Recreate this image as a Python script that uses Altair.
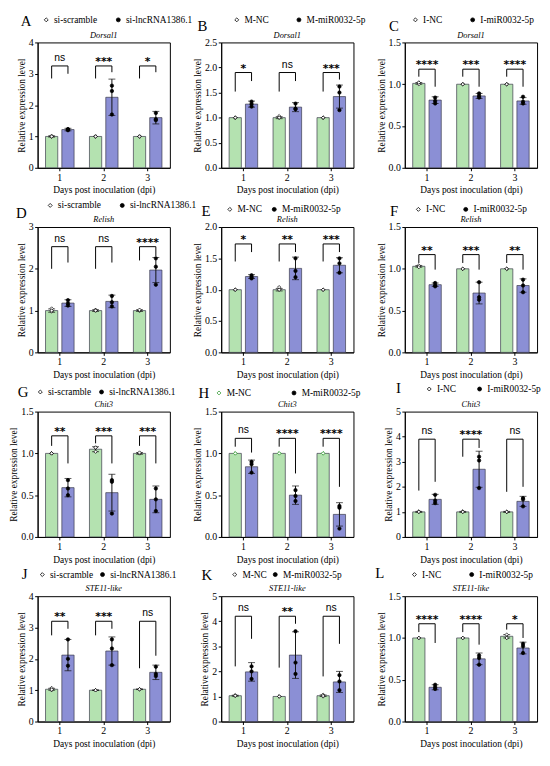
import altair as alt
import pandas as pd

SERIF = "Liberation Serif"
SANS = "Liberation Sans"
GREEN = "#b4e2b0"
BLUE = "#8b8fd5"
XT = "Days post inoculation (dpi)"
YT = "Relative expression level"
W, H = 134, 127

days = ["1", "2", "3"]
lnc_names = ["si-scramble", "si-lncRNA1386.1"]
m_names = ["M-NC", "M-miR0032-5p"]
i_names = ["I-NC", "I-miR0032-5p"]

# ---------------- A  Dorsal1 / lncRNA
A_ticks = [0, 1, 2, 3, 4]
A_ctrl_mean = [1.00, 1.00, 1.00]
A_ctrl_sd = [0.02, 0.00, 0.00]
A_trt_mean = [1.22, 2.25, 1.60]
A_trt_sd = [0.04, 0.58, 0.20]
A_ctrl_dots = [[0.99, 1.02, 1.00], [1.00, 1.00, 1.00], [1.00, 1.00, 1.00]]
A_trt_dots = [[1.20, 1.23, 1.23], [2.62, 2.45, 1.70], [1.75, 1.55, 1.52]]
A_sig = ["ns", "***", "*"]
A_top = [3.25, 3.25, 3.25]
A_lend = [2.85, 2.85, 2.85]
A_rend = [3.00, 3.05, 3.05]

# ---------------- B  Dorsal1 / M
B_ticks = [0, 0.5, 1.0, 1.5, 2.0, 2.5]
B_ctrl_mean = [1.00, 1.00, 1.00]
B_ctrl_sd = [0.00, 0.02, 0.00]
B_trt_mean = [1.27, 1.21, 1.42]
B_trt_sd = [0.06, 0.09, 0.23]
B_ctrl_dots = [[1.00, 1.00, 1.00], [1.00, 1.03, 1.00], [1.00, 1.00, 1.00]]
B_trt_dots = [[1.32, 1.27, 1.22], [1.28, 1.18, 1.17], [1.62, 1.50, 1.15]]
B_sig = ["*", "ns", "***"]
B_top = [1.90, 1.90, 1.90]
B_lend = [1.52, 1.52, 1.52]
B_rend = [1.73, 1.73, 1.76]

# ---------------- C  Dorsal1 / I
C_ticks = [0, 0.5, 1.0, 1.5]
C_ctrl_mean = [1.01, 1.00, 1.00]
C_ctrl_sd = [0.01, 0.00, 0.00]
C_trt_mean = [0.81, 0.86, 0.80]
C_trt_sd = [0.04, 0.03, 0.04]
C_ctrl_dots = [[1.02, 1.00, 1.02], [1.00, 1.00, 1.00], [1.00, 1.00, 1.00]]
C_trt_dots = [[0.84, 0.80, 0.77], [0.89, 0.86, 0.84], [0.85, 0.79, 0.77]]
C_sig = ["****", "***", "****"]
C_top = [1.18, 1.18, 1.18]
C_lend = [1.09, 1.09, 1.09]
C_rend = [0.97, 0.97, 0.97]

# ---------------- D  Relish / lncRNA
D_ticks = [0, 1, 2, 3]
D_ctrl_mean = [1.00, 1.00, 1.00]
D_ctrl_sd = [0.04, 0.02, 0.02]
D_trt_mean = [1.18, 1.22, 1.97]
D_trt_sd = [0.08, 0.15, 0.30]
D_ctrl_dots = [[1.05, 0.98, 1.00], [1.02, 1.00, 1.00], [1.00, 1.00, 1.02]]
D_trt_dots = [[1.25, 1.17, 1.12], [1.35, 1.20, 1.10], [2.25, 2.05, 1.62]]
D_sig = ["ns", "ns", "****"]
D_top = [2.53, 2.53, 2.53]
D_lend = [2.00, 2.00, 2.20]
D_rend = [2.15, 2.15, 2.30]

# ---------------- E  Relish / M
E_ticks = [0, 0.5, 1.0, 1.5, 2.0]
E_ctrl_mean = [1.00, 1.00, 1.00]
E_ctrl_sd = [0.00, 0.02, 0.00]
E_trt_mean = [1.21, 1.34, 1.39]
E_trt_sd = [0.03, 0.18, 0.12]
E_ctrl_dots = [[1.00, 1.00, 1.00], [1.00, 1.04, 1.00], [1.00, 1.00, 1.00]]
E_trt_dots = [[1.23, 1.20, 1.18], [1.50, 1.30, 1.20], [1.50, 1.42, 1.27]]
E_sig = ["*", "**", "***"]
E_top = [1.73, 1.73, 1.73]
E_lend = [1.45, 1.45, 1.45]
E_rend = [1.60, 1.60, 1.60]

# ---------------- F  Relish / I
F_ticks = [0, 0.5, 1.0, 1.5]
F_ctrl_mean = [1.03, 1.00, 1.00]
F_ctrl_sd = [0.01, 0.00, 0.00]
F_trt_mean = [0.81, 0.71, 0.80]
F_trt_sd = [0.02, 0.13, 0.08]
F_ctrl_dots = [[1.03, 1.04, 1.02], [1.00, 1.00, 1.00], [1.00, 1.00, 1.00]]
F_trt_dots = [[0.83, 0.80, 0.79], [0.84, 0.66, 0.63], [0.87, 0.80, 0.72]]
F_sig = ["**", "***", "**"]
F_top = [1.17, 1.17, 1.17]
F_lend = [1.07, 1.07, 1.07]
F_rend = [0.99, 0.99, 0.99]

# ---------------- G  Chit3 / lncRNA
G_ticks = [0, 0.5, 1.0, 1.5]
G_ctrl_mean = [1.00, 1.05, 1.00]
G_ctrl_sd = [0.00, 0.03, 0.01]
G_trt_mean = [0.59, 0.53, 0.45]
G_trt_sd = [0.11, 0.22, 0.16]
G_ctrl_dots = [[1.00, 1.00, 1.00], [1.07, 1.02, 1.07], [1.00, 1.00, 1.01]]
G_trt_dots = [[0.68, 0.58, 0.50], [0.68, 0.66, 0.28], [0.58, 0.45, 0.31]]
G_sig = ["**", "***", "***"]
G_top = [1.21, 1.21, 1.21]
G_lend = [1.09, 1.12, 1.09]
G_rend = [0.88, 0.88, 0.88]

# ---------------- H  Chit3 / M
H_ticks = [0, 0.5, 1.0, 1.5]
H_ctrl_mean = [1.00, 1.00, 1.00]
H_ctrl_sd = [0.00, 0.00, 0.00]
H_trt_mean = [0.84, 0.50, 0.27]
H_trt_sd = [0.08, 0.11, 0.14]
H_ctrl_dots = [[1.00, 1.00, 1.00], [1.00, 1.00, 1.00], [1.00, 1.00, 1.00]]
H_trt_dots = [[0.90, 0.87, 0.77], [0.56, 0.49, 0.43], [0.37, 0.35, 0.10]]
H_sig = ["ns", "****", "****"]
H_top = [1.18, 1.18, 1.18]
H_lend = [1.08, 1.08, 1.08]
H_rend = [1.01, 0.76, 0.60]

# ---------------- I  Chit3 / I
I_ticks = [0, 1, 2, 3, 4, 5]
I_ctrl_mean = [1.00, 1.00, 1.00]
I_ctrl_sd = [0.02, 0.02, 0.02]
I_trt_mean = [1.50, 2.70, 1.42]
I_trt_sd = [0.20, 0.72, 0.20]
I_ctrl_dots = [[1.00, 1.02, 1.00], [1.02, 1.00, 1.00], [1.00, 1.00, 1.00]]
I_trt_dots = [[1.68, 1.45, 1.35], [3.20, 3.05, 1.95], [1.55, 1.50, 1.22]]
I_sig = ["ns", "****", "ns"]
I_top = [3.90, 3.90, 3.90]
I_lend = [1.85, 3.20, 1.80]
I_rend = [2.20, 3.55, 2.00]

# ---------------- J  STE11-like / lncRNA
J_ticks = [0, 1, 2, 3, 4]
J_ctrl_mean = [1.03, 1.00, 1.03]
J_ctrl_sd = [0.03, 0.01, 0.01]
J_trt_mean = [2.12, 2.25, 1.57]
J_trt_sd = [0.50, 0.45, 0.23]
J_ctrl_dots = [[1.07, 1.00, 1.02], [1.00, 1.00, 1.00], [1.03, 1.03, 1.03]]
J_trt_dots = [[2.62, 2.00, 1.78], [2.62, 2.33, 1.80], [1.75, 1.52, 1.45]]
J_sig = ["**", "***", "ns"]
J_top = [3.20, 3.20, 3.20]
J_lend = [2.75, 2.75, 1.70]
J_rend = [2.96, 2.96, 2.10]

# ---------------- K  STE11-like / M
K_ticks = [0, 1, 2, 3, 4, 5]
K_ctrl_mean = [1.03, 1.00, 1.03]
K_ctrl_sd = [0.02, 0.00, 0.03]
K_trt_mean = [1.98, 2.65, 1.58]
K_trt_sd = [0.37, 0.93, 0.42]
K_ctrl_dots = [[1.05, 1.02, 1.03], [1.00, 1.00, 1.00], [1.07, 1.00, 1.02]]
K_trt_dots = [[2.20, 2.00, 1.70], [3.60, 2.35, 1.90], [1.85, 1.60, 1.25]]
K_sig = ["ns", "**", "ns"]
K_top = [4.20, 4.20, 4.20]
K_lend = [2.20, 2.15, 1.80]
K_rend = [3.30, 3.90, 3.10]

# ---------------- L  STE11-like / I
L_ticks = [0, 0.5, 1.0, 1.5]
L_ctrl_mean = [1.00, 1.00, 1.02]
L_ctrl_sd = [0.00, 0.00, 0.02]
L_trt_mean = [0.41, 0.75, 0.88]
L_trt_sd = [0.03, 0.07, 0.07]
L_ctrl_dots = [[1.00, 1.00, 1.00], [1.00, 1.00, 1.00], [1.04, 1.00, 1.00]]
L_trt_dots = [[0.44, 0.41, 0.39], [0.79, 0.76, 0.68], [0.93, 0.90, 0.82]]
L_sig = ["****", "****", "*"]
L_top = [1.17, 1.17, 1.17]
L_lend = [1.07, 1.07, 1.10]
L_rend = [0.94, 0.92, 1.00]

# panel layout / style (letter pos, legend pos, legend gap, control marker stroke)
STYLE = {
    "A": dict(lx=-17, ly=-17, gx=4, gy=-28, pad=16, cs="black"),
    "B": dict(lx=-24, ly=-12, gx=11, gy=-28, pad=25, cs="black"),
    "C": dict(lx=-16, ly=-12, gx=6, gy=-28, pad=25, cs="black"),
    "D": dict(lx=-22, ly=-9, gx=8, gy=-27, pad=16, cs="black"),
    "E": dict(lx=-20, ly=-11, gx=4, gy=-23, pad=7, cs="black"),
    "F": dict(lx=-15, ly=-11, gx=9, gy=-23, pad=15, cs="black"),
    "G": dict(lx=-20, ly=-15, gx=-2, gy=-25, pad=5, cs="black"),
    "H": dict(lx=-23, ly=-14, gx=-7, gy=-24, pad=38, cs="#3a9e3a"),
    "I": dict(lx=-9, ly=-19, gx=20, gy=-28, pad=18, cs="black"),
    "J": dict(lx=-16, ly=-17, gx=0, gy=-27, pad=4, cs="black"),
    "K": dict(lx=-20, ly=-16, gx=9, gy=-27, pad=3, cs="black"),
    "L": dict(lx=-30, ly=-18, gx=5, gy=-27, pad=25, cs="black"),
}

PANELS = [
    ("A", "Dorsal1", lnc_names, A_ticks, A_ctrl_mean, A_ctrl_sd, A_trt_mean, A_trt_sd, A_ctrl_dots, A_trt_dots, A_sig, A_top, A_lend, A_rend),
    ("B", "Dorsal1", m_names, B_ticks, B_ctrl_mean, B_ctrl_sd, B_trt_mean, B_trt_sd, B_ctrl_dots, B_trt_dots, B_sig, B_top, B_lend, B_rend),
    ("C", "Dorsal1", i_names, C_ticks, C_ctrl_mean, C_ctrl_sd, C_trt_mean, C_trt_sd, C_ctrl_dots, C_trt_dots, C_sig, C_top, C_lend, C_rend),
    ("D", "Relish", lnc_names, D_ticks, D_ctrl_mean, D_ctrl_sd, D_trt_mean, D_trt_sd, D_ctrl_dots, D_trt_dots, D_sig, D_top, D_lend, D_rend),
    ("E", "Relish", m_names, E_ticks, E_ctrl_mean, E_ctrl_sd, E_trt_mean, E_trt_sd, E_ctrl_dots, E_trt_dots, E_sig, E_top, E_lend, E_rend),
    ("F", "Relish", i_names, F_ticks, F_ctrl_mean, F_ctrl_sd, F_trt_mean, F_trt_sd, F_ctrl_dots, F_trt_dots, F_sig, F_top, F_lend, F_rend),
    ("G", "Chit3", lnc_names, G_ticks, G_ctrl_mean, G_ctrl_sd, G_trt_mean, G_trt_sd, G_ctrl_dots, G_trt_dots, G_sig, G_top, G_lend, G_rend),
    ("H", "Chit3", m_names, H_ticks, H_ctrl_mean, H_ctrl_sd, H_trt_mean, H_trt_sd, H_ctrl_dots, H_trt_dots, H_sig, H_top, H_lend, H_rend),
    ("I", "Chit3", i_names, I_ticks, I_ctrl_mean, I_ctrl_sd, I_trt_mean, I_trt_sd, I_ctrl_dots, I_trt_dots, I_sig, I_top, I_lend, I_rend),
    ("J", "STE11-like", lnc_names, J_ticks, J_ctrl_mean, J_ctrl_sd, J_trt_mean, J_trt_sd, J_ctrl_dots, J_trt_dots, J_sig, J_top, J_lend, J_rend),
    ("K", "STE11-like", m_names, K_ticks, K_ctrl_mean, K_ctrl_sd, K_trt_mean, K_trt_sd, K_ctrl_dots, K_trt_dots, K_sig, K_top, K_lend, K_rend),
    ("L", "STE11-like", i_names, L_ticks, L_ctrl_mean, L_ctrl_sd, L_trt_mean, L_trt_sd, L_ctrl_dots, L_trt_dots, L_sig, L_top, L_lend, L_rend),
]

PI_OFF = 0.25
STEP_OFF = 1.0 / (2 - PI_OFF)
POS_C = (1 - PI_OFF) * STEP_OFF / 2
POS_T = POS_C + STEP_OFF


def make_panel(letter, gene, names, ticks, cm, csd, tm, tsd, cd, td, sig, top, lend, rend):
    st = STYLE[letter]
    rows = []
    for i, d in enumerate(days):
        rows.append(dict(day=d, g="c", mean=cm[i], lo=cm[i] - csd[i], hi=cm[i] + csd[i]))
        rows.append(dict(day=d, g="t", mean=tm[i], lo=tm[i] - tsd[i], hi=tm[i] + tsd[i]))
    bars = pd.DataFrame(rows)
    drows = []
    for i, d in enumerate(days):
        for g, nm, arr in (("c", names[0], cd), ("t", names[1], td)):
            for r, v in enumerate(arr[i]):
                drows.append(dict(day=d, g=g, name=nm, rep=r, val=v))
    dots = pd.DataFrame(drows)
    br = pd.DataFrame(dict(day=days, top=top, lend=lend, rend=rend, sig=sig))

    fmt = "d" if all(float(t).is_integer() for t in ticks) else ".1f"
    xs = alt.Scale(paddingInner=0.35, paddingOuter=0.18)
    ys = alt.Scale(domain=[0, ticks[-1]], nice=False, zero=True)
    xax = alt.Axis(labelAngle=0)
    yax = alt.Axis(values=ticks, format=fmt)

    def X(**kw):
        return alt.X("day:N", title=XT, scale=xs, axis=xax, **kw)

    def Y(f):
        return alt.Y(f + ":Q", title=YT, scale=ys, axis=yax)

    xoff = alt.XOffset("g:N", scale=alt.Scale(domain=["c", "t"], paddingInner=PI_OFF, paddingOuter=0))
    color = alt.Color("g:N", scale=alt.Scale(domain=["c", "t"], range=[GREEN, BLUE]), legend=None)

    base = alt.Chart(bars)
    bar = base.mark_bar(stroke="#3a3a4a", strokeWidth=0.7).encode(
        x=X(), xOffset=xoff, y=Y("mean"), color=color)
    errs = base.transform_filter("datum.hi - datum.lo > 0.015")
    err = errs.mark_rule(color="#111", strokeWidth=1).encode(
        x=X(), xOffset=xoff, y=Y("lo"), y2="hi:Q")
    cap_hi = errs.mark_tick(color="#111", size=7, thickness=1).encode(x=X(), xOffset=xoff, y=Y("hi"))
    cap_lo = errs.mark_tick(color="#111", size=7, thickness=1).encode(x=X(), xOffset=xoff, y=Y("lo"))

    leg = alt.Legend(title=None, orient="none", legendX=st["gx"], legendY=st["gy"],
                     direction="horizontal", labelFont=SERIF, labelFontSize=9.5,
                     labelColor="black", symbolSize=16, symbolStrokeWidth=0.8,
                     columnPadding=st["pad"], labelOffset=3, padding=0)
    shape = alt.Shape("name:N", scale=alt.Scale(domain=names, range=["diamond", "circle"]), legend=leg)
    fill = alt.Fill("name:N", scale=alt.Scale(domain=names, range=["white", "black"]), legend=leg)
    stroke = alt.Stroke("name:N", scale=alt.Scale(domain=names, range=[st["cs"], "black"]), legend=leg)
    pts = []
    for r, dx in zip(range(3), (-3.3, 0, 3.3)):
        pts.append(
            alt.Chart(dots).transform_filter(f"datum.rep == {r}")
            .mark_point(size=12, strokeWidth=0.7, opacity=1, dx=dx)
            .encode(x=X(), xOffset=xoff, y=Y("val"), shape=shape, fill=fill, stroke=stroke)
        )

    bb = alt.Chart(br)
    hline = bb.mark_rule(color="black", strokeWidth=1).encode(
        x=X(bandPosition=POS_C), x2=alt.X2("day", bandPosition=POS_T), y=Y("top"))
    lleg = bb.mark_rule(color="black", strokeWidth=1).encode(
        x=X(bandPosition=POS_C), y=Y("top"), y2="lend:Q")
    rleg = bb.mark_rule(color="black", strokeWidth=1).encode(
        x=X(bandPosition=POS_T), y=Y("top"), y2="rend:Q")
    stars = bb.transform_filter("datum.sig != 'ns'").mark_text(
        font="DejaVu Sans", fontWeight="bold", fontSize=11, baseline="alphabetic", dy=-1,
        color="black", fill="black"
    ).encode(x=X(), y=Y("top"), text="sig:N")
    ns = bb.transform_filter("datum.sig == 'ns'").mark_text(
        font=SANS, fontSize=10.5, baseline="alphabetic", dy=-5, color="black"
    ).encode(x=X(), y=Y("top"), text="sig:N")

    one = alt.Data(values=[{"t": letter, "gene": gene}])
    lab = alt.Chart(one).mark_text(
        font=SERIF, fontSize=15, align="left", baseline="alphabetic", color="black"
    ).encode(x=alt.value(st["lx"]), y=alt.value(st["ly"]), text="t:N")
    gtitle = alt.Chart(one).mark_text(
        font=SERIF, fontSize=8.5, fontStyle="italic", align="center", baseline="alphabetic", color="black"
    ).encode(x=alt.value(W / 2), y=alt.value(-5), text="gene:N")

    return alt.layer(bar, err, cap_hi, cap_lo, *pts, hline, lleg, rleg, stars, ns, lab, gtitle).properties(
        width=W, height=H,
    )


panels = [make_panel(*p) for p in PANELS]

chart = alt.concat(
    *panels, columns=3, spacing={"row": 60, "column": 52}, bounds="flush"
).resolve_scale(
    shape="independent", fill="independent", stroke="independent"
).properties(
    padding={"left": 0, "top": 0, "right": 0, "bottom": 0}
).configure_axis(
    domainColor="black", tickColor="black", labelColor="black", titleColor="black",
    labelFont=SERIF, titleFont=SERIF, labelFontSize=10, titleFontSize=9.5,
    titleFontWeight="normal", grid=False, tickSize=3, labelPadding=1.5,
    domainWidth=1, tickWidth=1,
).configure_axisX(
    titlePadding=3,
).configure_axisY(
    titlePadding=2,
).configure_view(
    stroke="black", strokeWidth=1,
)

chart.save("out.html", embed_options={"renderer": "svg", "actions": False})
